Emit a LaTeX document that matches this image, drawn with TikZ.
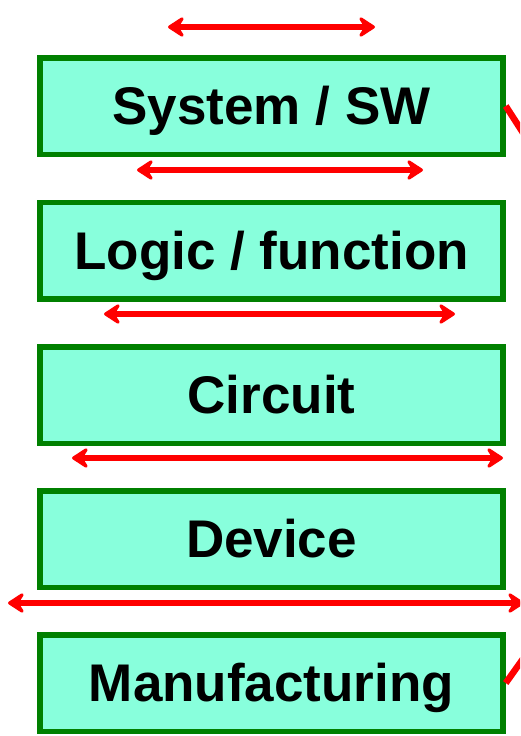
\documentclass[tikz,border=0pt]{standalone}
\usepackage{fontspec}
\setmainfont{Liberation Sans}
\usetikzlibrary{arrows.meta}
\definecolor{layerfill}{RGB}{136,255,220}
\definecolor{layerline}{RGB}{0,128,0}
\tikzset{
 layer/.style={draw=layerline,fill=layerfill,line width=5.5pt,
  minimum width=463pt,minimum height=96.5pt,inner sep=0pt,
  font=\fontsize{53}{60}\selectfont\bfseries,text height=37pt,text depth=0pt},
 span/.style={draw=red,line width=6pt,
  {Stealth[length=20pt,width=26pt,inset=8pt,round]}-{Stealth[length=20pt,width=26pt,inset=8pt,round]}},
 link/.style={draw=red,line width=6.5pt}
}

\begin{document}
\begin{tikzpicture}[x=1pt,y=-1pt]
\useasboundingbox (0,0) rectangle (520,736);
\clip (0,0) rectangle (520,736);

% layers
\node[layer] (sys) at (271.5,106) {System / SW};
\node[layer] (logic) at (271.5,250.5) {Logic / function};
\node[layer] (circ) at (271.5,395) {Circuit};
\node[layer] (dev) at (271.5,539) {Device};
\node[layer] (manu) at (271.5,683) {Manufacturing};

% spans above each layer
\coordinate (s1l) at (168,27);  \coordinate (s1r) at (375,27);
\coordinate (s2l) at (137,170); \coordinate (s2r) at (423,170);
\coordinate (s3l) at (104,314); \coordinate (s3r) at (455,314);
\coordinate (s4l) at (72,458);  \coordinate (s4r) at (503,458);
\coordinate (s5l) at (8,603);   \coordinate (s5r) at (524,603);
\draw[span] (s1l) -- (s1r);
\draw[span] (s2l) -- (s2r);
\draw[span] (s3l) -- (s3r);
\draw[span] (s4l) -- (s4r);
\draw[span] (s5l) -- (s5r);

% links leaving on the right
\coordinate (up) at (545,167);
\coordinate (down) at (545,628);
\draw[link] (sys.east) -- (up);
\draw[link] (manu.east) -- (down);

\end{tikzpicture}
\end{document}
